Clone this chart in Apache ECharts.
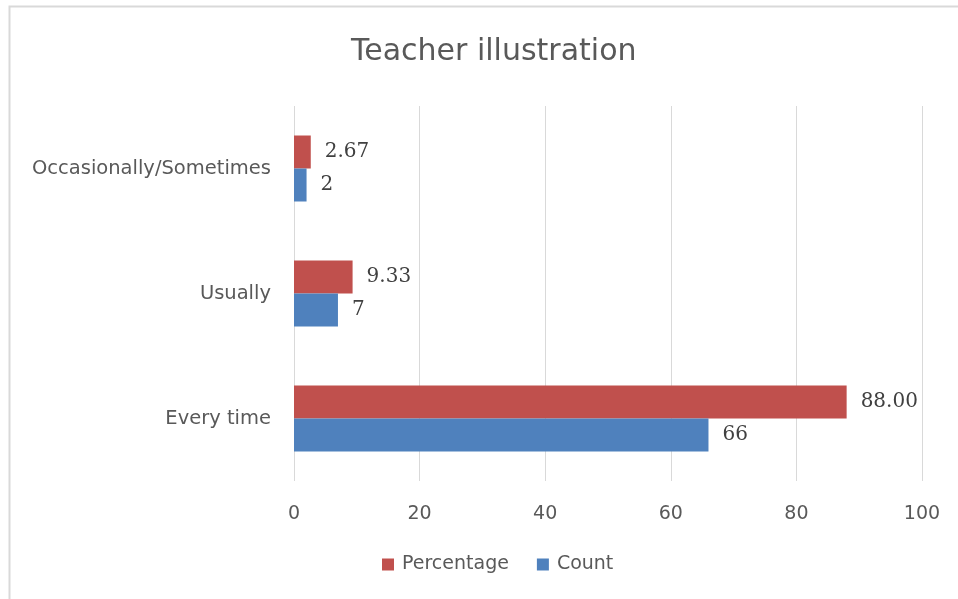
<!DOCTYPE html>
<html>
<head>
<meta charset="utf-8">
<script src="https://cdn.jsdelivr.net/npm/echarts@6/dist/echarts.min.js"></script>
<style>
  html, body { margin: 0; padding: 0; background: #fff; }
  #chart { width: 958px; height: 599px; }
</style>
</head>
<body>
<div id="chart"></div>
<script>
var categories = ['Every time', 'Usually', 'Occasionally/Sometimes'];
var percentage = [88.00, 9.33, 2.67];
var count = [66, 7, 2];
var xTicks = [0, 20, 40, 60, 80, 100];

var myChart = echarts.init(document.getElementById('chart'));

var labelStyle = {
    show: true,
    position: 'right',
    distance: 14,
    color: '#404040',
    fontSize: 20,
    fontFamily: 'DejaVu Serif'
};

var option = {
    animation: false,
    title: {
        text: 'Teacher illustration',
        left: 346,
        top: 32,
        textStyle: {
            color: '#595959',
            fontSize: 30,
            fontWeight: 'normal',
            fontFamily: 'DejaVu Sans'
        }
    },
    graphic: [{
        type: 'rect',
        shape: { x: 9.5, y: 6.5, width: 960, height: 600 },
        style: { fill: 'none', stroke: '#d9d9d9', lineWidth: 2 },
        silent: true
    }],
    legend: {
        data: ['Percentage', 'Count'],
        bottom: 20,
        left: 377,
        itemWidth: 12,
        itemHeight: 12,
        itemGap: 28,
        icon: 'rect',
        textStyle: { color: '#595959', fontSize: 19, fontFamily: 'DejaVu Sans', padding: [0, 0, 0, 3] }
    },
    grid: {
        left: 294,
        right: 36,
        top: 106,
        bottom: 118
    },
    xAxis: {
        type: 'value',
        min: xTicks[0],
        max: xTicks[xTicks.length - 1],
        interval: 20,
        axisLine: { show: false },
        axisTick: { show: false },
        splitLine: { lineStyle: { color: '#d9d9d9', width: 1 } },
        axisLabel: { color: '#595959', fontSize: 19, margin: 24, fontFamily: 'DejaVu Sans' }
    },
    yAxis: {
        type: 'category',
        data: categories,
        axisLine: { show: false },
        axisTick: { show: false },
        axisLabel: { color: '#595959', fontSize: 19.5, margin: 23, fontFamily: 'DejaVu Sans' }
    },
    series: [
        {
            name: 'Percentage',
            type: 'bar',
            data: percentage,
            barWidth: 33,
            barGap: '0%',
            itemStyle: { color: '#C0504D' },
            label: Object.assign({}, labelStyle, {
                formatter: function (p) { return p.value.toFixed(2); }
            })
        },
        {
            name: 'Count',
            type: 'bar',
            data: count,
            barWidth: 33,
            barGap: '0%',
            itemStyle: { color: '#4F81BD' },
            label: labelStyle
        }
    ]
};

myChart.setOption(option);
</script>
</body>
</html>
